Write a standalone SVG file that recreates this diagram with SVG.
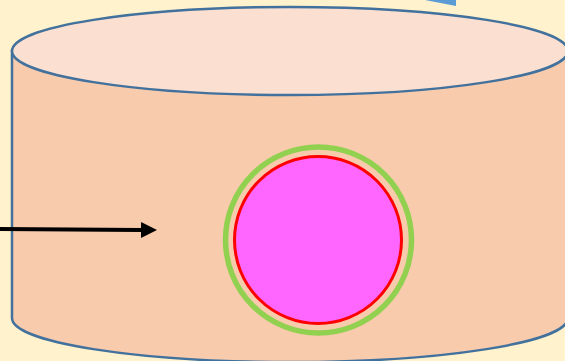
<svg xmlns="http://www.w3.org/2000/svg" width="565" height="361" viewBox="0 0 565 361">
<defs>
<style>
.cyl{stroke:#41719C;stroke-width:2.5}
</style>
<marker id="ah" markerWidth="4" markerHeight="4" refX="0" refY="2" orient="auto" markerUnits="strokeWidth"><path d="M0,0 L4,2 L0,4 Z" fill="#000"/></marker>
</defs>
<rect width="565" height="361" fill="#FFF2CC"/>
<g id="blue-shape"><polygon points="425,0 456,0 456,6" fill="#5B9BD5"/></g>
<g id="cylinder">
<path class="cyl" d="M12,51 L12,318 A278,44 0 0 0 568,318 L568,51 Z" fill="#F8CBAD"/>
<ellipse class="cyl" cx="290" cy="51" rx="278" ry="44" fill="#FBE0D2"/>
</g>
<g id="connectors">
<line x1="0" y1="229" x2="141" y2="230" stroke="#000" stroke-width="4" marker-end="url(#ah)"/>
</g>
<g id="outer-ring"><circle cx="318.5" cy="240" r="93" fill="none" stroke="#92D050" stroke-width="5.5"/></g>
<g id="inner-circle"><circle cx="318" cy="240" r="83.5" fill="#FF66FF" stroke="#FF0000" stroke-width="3"/></g>
</svg>
